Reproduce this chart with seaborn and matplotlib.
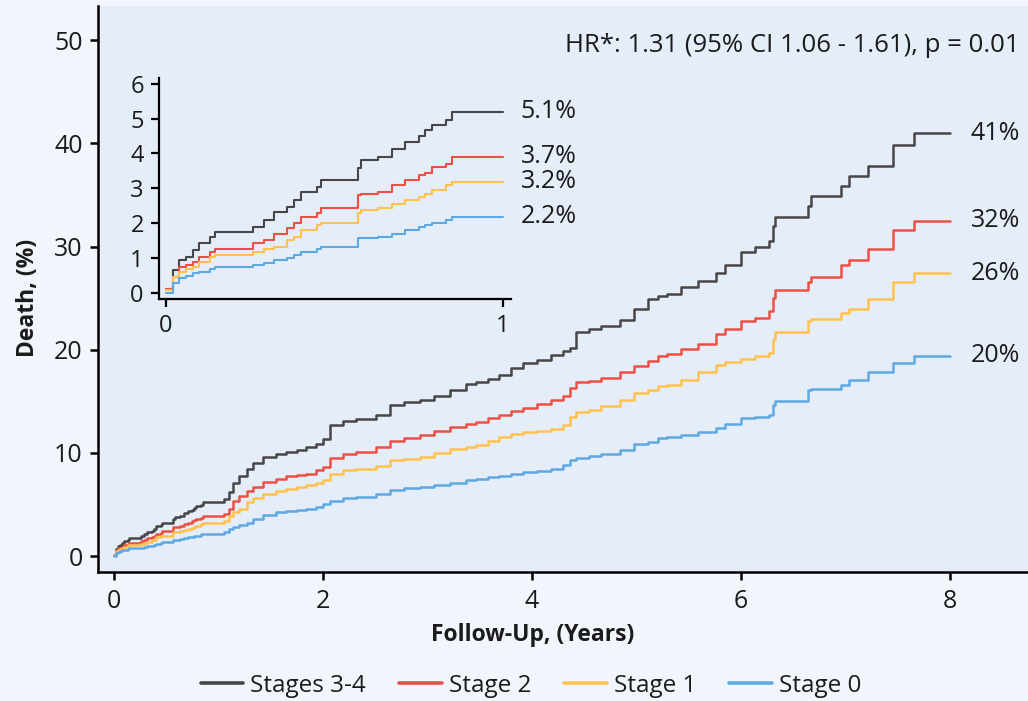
import numpy as np
import pandas as pd
import matplotlib
matplotlib.use("Agg")
import matplotlib.pyplot as plt
import seaborn as sns
from matplotlib.lines import Line2D

# ---------------- data ----------------
years = [0.00, 0.02, 0.04, 0.06, 0.08, 0.10, 0.13, 0.146, 0.26, 0.29, 0.32, 0.36,
         0.38, 0.40, 0.45, 0.46, 0.57, 0.58, 0.63, 0.67, 0.71, 0.75, 0.77, 0.79,
         0.83, 0.85, 1.00,
         1.05, 1.10, 1.14, 1.20, 1.27, 1.33, 1.43, 1.55, 1.65, 1.75, 1.84, 1.93,
         2.00, 2.07, 2.19, 2.32, 2.51, 2.64, 2.78, 2.93, 3.06, 3.22, 3.37, 3.47,
         3.58, 3.69, 3.80, 3.92, 4.05, 4.18, 4.30, 4.37, 4.42, 4.55, 4.66, 4.84,
         4.98, 5.11, 5.21, 5.29, 5.43, 5.59, 5.76, 5.85, 6.00, 6.14, 6.27, 6.31,
         6.33, 6.64, 6.67, 6.96, 7.04, 7.22, 7.46, 7.66, 8.00]

stages_34 = [0.12, 0.65, 0.94, 1.03, 1.22, 1.44, 1.60, 1.73, 1.90, 2.09, 2.33, 2.47,
             2.66, 2.90, 3.04, 3.23, 3.57, 3.81, 3.90, 4.14, 4.33, 4.50, 4.67, 4.81,
             4.96, 5.20, 5.20,
             5.5, 6.2, 7.1, 7.8, 8.4, 9.0, 9.6, 9.9, 10.1, 10.3, 10.6, 10.9,
             11.3, 12.7, 13.1, 13.3, 13.7, 14.6, 14.9, 15.1, 15.5, 16.1, 16.7, 16.9,
             17.2, 17.6, 18.2, 18.7, 19.0, 19.5, 19.9, 20.2, 21.7, 22.0, 22.3, 22.9,
             24.0, 24.9, 25.2, 25.4, 26.1, 26.7, 27.4, 28.2, 29.5, 30.0, 30.5, 32.0,
             32.9, 33.9, 34.9, 35.9, 36.8, 37.8, 39.9, 41.0, 41.0]

stage_2 = [0.12, 0.46, 0.75, 0.80, 0.89, 1.03, 1.18, 1.27, 1.42, 1.51, 1.70, 1.85,
           1.99, 2.18, 2.28, 2.42, 2.80, 2.85, 2.90, 3.09, 3.23, 3.38, 3.45, 3.62,
           3.71, 3.90, 3.90,
           4.1, 4.6, 5.3, 5.8, 6.3, 6.7, 7.2, 7.5, 7.75, 7.9, 8.0, 8.3,
           8.65, 9.5, 9.9, 10.1, 10.6, 11.2, 11.4, 11.7, 12.1, 12.5, 12.8, 13.0,
           13.4, 13.7, 14.1, 14.4, 14.7, 15.1, 15.5, 16.3, 16.9, 17.0, 17.3, 17.8,
           18.4, 18.9, 19.4, 19.6, 20.1, 20.6, 21.5, 22.0, 22.8, 23.1, 23.8, 25.0,
           25.75, 26.6, 27.1, 28.2, 28.7, 29.8, 31.6, 32.5, 32.5]

stage_1 = [0.08, 0.46, 0.60, 0.68, 0.75, 0.89, 1.03, 1.08, 1.18, 1.25, 1.32, 1.51,
           1.60, 1.80, 1.94, 1.99, 2.30, 2.37, 2.42, 2.56, 2.66, 2.76, 2.85, 2.95,
           3.09, 3.19, 3.19,
           3.4, 3.9, 4.3, 4.6, 5.2, 5.6, 6.0, 6.3, 6.5, 6.7, 6.9, 7.1,
           7.4, 8.0, 8.3, 8.4, 8.7, 9.3, 9.45, 9.6, 10.0, 10.4, 10.6, 10.75,
           11.2, 11.5, 11.8, 12.0, 12.1, 12.3, 12.7, 13.5, 14.0, 14.2, 14.5, 15.1,
           15.8, 16.1, 16.45, 16.6, 17.1, 17.8, 18.5, 18.8, 19.1, 19.4, 19.7, 21.0,
           21.7, 22.8, 23.0, 23.6, 24.0, 24.9, 26.6, 27.4, 27.4]

stage_0 = [0.00, 0.27, 0.41, 0.48, 0.56, 0.60, 0.68, 0.75, 0.80, 0.84, 0.94, 1.00,
           1.08, 1.18, 1.25, 1.32, 1.56, 1.58, 1.61, 1.70, 1.80, 1.89, 1.94, 1.99,
           2.09, 2.18, 2.18,
           2.35, 2.6, 2.8, 3.0, 3.2, 3.6, 4.0, 4.3, 4.4, 4.5, 4.6, 4.8,
           5.0, 5.3, 5.6, 5.7, 6.0, 6.4, 6.6, 6.7, 6.9, 7.1, 7.4, 7.5,
           7.7, 7.8, 8.0, 8.1, 8.2, 8.4, 8.8, 9.3, 9.5, 9.7, 9.9, 10.3,
           10.9, 11.1, 11.4, 11.5, 11.7, 12.0, 12.4, 12.8, 13.35, 13.5, 13.7, 14.6,
           15.0, 16.1, 16.2, 16.6, 17.1, 17.8, 18.7, 19.4, 19.4]

groups = ["Stages 3-4", "Stage 2", "Stage 1", "Stage 0"]
end_labels = ["41%", "32%", "26%", "20%"]
inset_labels = ["5.1%", "3.7%", "3.2%", "2.2%"]
x_ticks = [0, 2, 4, 6, 8]
y_ticks = [0, 10, 20, 30, 40, 50]
inset_x_ticks = [0, 1]
inset_y_ticks = [0, 1, 2, 3, 4, 5, 6]
hr_text = "HR*: 1.31 (95% CI 1.06 - 1.61), p = 0.01"
x_label = "Follow-Up, (Years)"
y_label = "Death, (%)"

# ---------------- styling ----------------
colors = ["#474747", "#EC5044", "#FFC24E", "#5FA9E2"]
palette = dict(zip(groups, colors))
FIG_BG = "#F1F5FC"
AX_BG = "#E5EDF9"
TXT = "#1b1b1b"

series = [stages_34, stage_2, stage_1, stage_0]
df = pd.concat(
    [pd.DataFrame({"Years": years, "Death": vals, "Group": g}) for g, vals in zip(groups, series)],
    ignore_index=True,
)

sns.set_theme(style="white")
plt.rcParams["font.family"] = ["Open Sans", "DejaVu Sans"]

fig = plt.figure(figsize=(10.28, 7.01), dpi=100, facecolor=FIG_BG)

# ---------------- main axes ----------------
ax = fig.add_axes([0.0953, 0.184, 0.9047, 0.807])
ax.set_facecolor(AX_BG)
sns.lineplot(data=df, x="Years", y="Death", hue="Group", hue_order=groups,
             palette=palette, drawstyle="steps-post", linewidth=1.8,
             estimator=None, legend=False, ax=ax)
ax.set_xlim(-0.153, 8.75)
ax.set_ylim(-1.55, 53.3)
ax.set_xticks(x_ticks)
ax.set_yticks(y_ticks)
for s in ["top", "right"]:
    ax.spines[s].set_visible(False)
for s in ["left", "bottom"]:
    ax.spines[s].set_linewidth(1.8)
    ax.spines[s].set_color("black")
ax.tick_params(axis="both", which="major", direction="out", length=6, width=1.8,
               color="black", labelsize=18, labelcolor=TXT, bottom=True, left=True)
ax.tick_params(axis="x", pad=6)
ax.tick_params(axis="y", pad=5)

ax.set_xlabel(x_label, fontsize=16.5, fontweight="bold", color=TXT)
ax.set_ylabel(y_label, fontsize=16.5, fontweight="bold", color=TXT)
ax.xaxis.set_label_coords(0.467, -0.111)
ax.xaxis.label.set_va("center")
ax.yaxis.set_label_coords(-0.075, 0.484)
ax.yaxis.label.set_va("center")

for lab, vals in zip(end_labels, series):
    ax.text(8.2, vals[-1], lab, ha="left", va="center", fontsize=18, color=TXT)

ax.text(0.991, 0.931, hr_text, transform=ax.transAxes, ha="right", va="center",
        fontsize=18.5, color=TXT)

# ---------------- inset ----------------
axi = fig.add_axes([0.1547, 0.5735, 0.342, 0.3153])
axi.set_facecolor("none")
df_in = df[df["Years"] <= 1.0]
sns.lineplot(data=df_in, x="Years", y="Death", hue="Group", hue_order=groups,
             palette=palette, drawstyle="steps-post", linewidth=1.5,
             estimator=None, legend=False, ax=axi)
axi.set_xlim(-0.02, 1.023)
axi.set_ylim(-0.18, 6.17)
axi.set_xticks(inset_x_ticks)
axi.set_yticks(inset_y_ticks)
for s in ["top", "right"]:
    axi.spines[s].set_visible(False)
for s in ["left", "bottom"]:
    axi.spines[s].set_linewidth(1.6)
    axi.spines[s].set_color("black")
axi.tick_params(axis="both", which="major", direction="out", length=6, width=1.6,
                color="black", labelsize=17, labelcolor=TXT, bottom=True, left=True, pad=5)
axi.set_xlabel("")
axi.set_ylabel("")
for g, lab in zip(groups, inset_labels):
    y_end = df_in[df_in["Group"] == g]["Death"].iloc[-1]
    axi.text(1.053, y_end, lab, ha="left", va="center", fontsize=18, color=TXT,
             clip_on=False)

# ---------------- legend ----------------
handles = [Line2D([0], [0], color=c, lw=2.6) for c in colors]
fig.legend(handles, groups, loc="center", bbox_to_anchor=(0.5165, 0.0214), ncol=4,
           frameon=False, fontsize=17.5, handlelength=1.75, handletextpad=0.3,
           columnspacing=1.35, labelcolor=TXT)

fig.savefig("out.png", dpi=100, facecolor=FIG_BG)
